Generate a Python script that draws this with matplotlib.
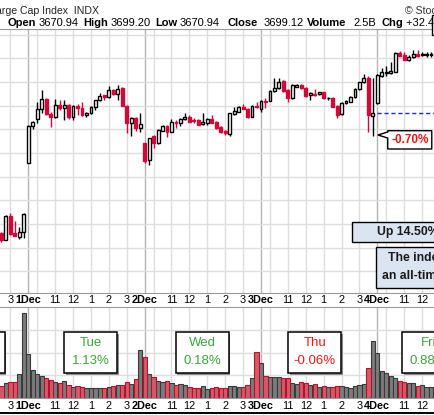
import numpy as np
import matplotlib.pyplot as plt
import matplotlib.transforms as mtransforms
from matplotlib.patches import Rectangle, Polygon
from matplotlib.lines import Line2D

plt.rcParams['font.family'] = ['Liberation Sans', 'DejaVu Sans']

# Séances affichées : barres de 15 min, 26 barres par séance (9h30 -> 16h00)
day_labels = ["30Nov", "1Dec", "2Dec", "3Dec", "4Dec"]
first_bar = [20, 0, 0, 0, 0]

# (open, high, low, close)
nov30_ohlc = [
    (3616.06, 3616.61, 3612.51, 3613.23), (3613.23, 3623.79, 3613.02, 3623.37),
    (3623.37, 3624.51, 3615.34, 3615.76), (3616.06, 3621.26, 3614.71, 3614.92),
    (3614.37, 3618.85, 3613.65, 3616.74), (3616.74, 3624.43, 3613.95, 3624.21),
]
dec1_ohlc = [
    (3645.89, 3661.61, 3645.76, 3661.39), (3661.39, 3663.51, 3660.00, 3663.08),
    (3664.48, 3671.53, 3662.54, 3668.45), (3668.45, 3676.60, 3666.89, 3672.68),
    (3672.68, 3673.35, 3666.04, 3666.34), (3666.34, 3667.31, 3661.10, 3665.07),
    (3665.07, 3672.80, 3664.77, 3670.27), (3670.27, 3672.38, 3668.15, 3668.87),
    (3668.87, 3672.38, 3663.93, 3670.14), (3670.27, 3670.69, 3664.23, 3665.32),
    (3665.32, 3670.27, 3663.93, 3669.84), (3669.84, 3670.69, 3666.04, 3669.13),
    (3669.13, 3671.66, 3665.62, 3665.92), (3665.92, 3667.31, 3665.32, 3666.89),
    (3666.76, 3669.84, 3666.46, 3669.30), (3669.30, 3672.38, 3668.15, 3672.25),
    (3672.25, 3675.21, 3671.96, 3674.07), (3674.37, 3674.49, 3672.38, 3673.77),
    (3673.52, 3678.29, 3673.22, 3676.60), (3676.60, 3677.03, 3674.49, 3674.79),
    (3674.79, 3678.72, 3672.38, 3677.15), (3677.32, 3677.87, 3669.84, 3669.97),
    (3669.97, 3670.27, 3658.31, 3662.54), (3662.54, 3665.20, 3657.17, 3664.65),
    (3664.65, 3665.20, 3659.28, 3660.68), (3660.68, 3666.76, 3658.99, 3662.11),
]
dec2_ohlc = [
    (3654.09, 3654.21, 3645.64, 3646.73), (3647.03, 3656.32, 3644.79, 3656.20),
    (3657.17, 3657.59, 3651.97, 3654.09), (3654.09, 3660.13, 3653.79, 3659.70),
    (3659.41, 3661.82, 3659.28, 3661.39), (3661.39, 3661.82, 3656.62, 3658.99),
    (3658.99, 3664.23, 3658.86, 3663.21), (3663.21, 3663.93, 3660.42, 3662.54),
    (3662.54, 3664.77, 3661.39, 3664.23), (3664.23, 3667.01, 3663.93, 3665.32),
    (3665.32, 3666.04, 3663.08, 3663.21), (3663.93, 3664.65, 3662.54, 3663.38),
    (3663.93, 3664.35, 3661.61, 3661.82), (3662.24, 3666.76, 3661.82, 3663.08),
    (3662.79, 3664.77, 3661.69, 3664.23), (3664.23, 3666.04, 3662.66, 3662.79),
    (3663.08, 3663.51, 3660.13, 3660.42), (3661.10, 3661.39, 3658.44, 3658.99),
    (3659.41, 3659.70, 3657.47, 3658.31), (3658.01, 3666.89, 3657.17, 3666.76),
    (3666.46, 3669.30, 3666.04, 3667.86), (3667.44, 3669.84, 3667.31, 3669.30),
    (3669.30, 3670.69, 3668.58, 3668.70), (3668.70, 3669.00, 3664.77, 3665.07),
    (3665.32, 3670.27, 3665.20, 3669.84), (3669.84, 3671.66, 3669.00, 3669.30),
]
dec3_ohlc = [
    (3668.45, 3672.38, 3667.44, 3671.96), (3671.96, 3673.35, 3669.13, 3671.41),
    (3671.96, 3676.60, 3671.75, 3676.18), (3676.18, 3681.55, 3675.76, 3677.58),
    (3677.32, 3681.80, 3677.03, 3680.11), (3680.41, 3680.83, 3675.76, 3676.18),
    (3676.60, 3677.03, 3671.41, 3673.10), (3673.10, 3678.93, 3672.80, 3678.72),
    (3678.00, 3679.14, 3677.87, 3678.72), (3678.72, 3679.14, 3677.03, 3677.32),
    (3677.58, 3677.87, 3673.65, 3674.20), (3674.49, 3675.55, 3672.38, 3675.34),
    (3674.91, 3677.03, 3674.28, 3674.62), (3674.79, 3675.76, 3674.49, 3675.63),
    (3675.63, 3675.76, 3672.80, 3673.10), (3673.10, 3673.65, 3672.38, 3673.35),
    (3673.35, 3673.44, 3669.42, 3669.55), (3669.97, 3670.27, 3664.90, 3666.04),
    (3666.34, 3671.53, 3666.04, 3670.99), (3670.99, 3672.38, 3670.69, 3671.96),
    (3671.66, 3674.07, 3671.53, 3673.77), (3673.52, 3677.45, 3673.22, 3677.03),
    (3677.03, 3679.98, 3676.60, 3679.86), (3679.86, 3683.24, 3679.56, 3681.55),
    (3681.80, 3682.52, 3658.99, 3666.04), (3665.75, 3681.55, 3657.30, 3666.76),
]
dec4_ohlc = [
    (3670.99, 3683.36, 3670.69, 3682.94), (3682.73, 3685.90, 3682.10, 3684.21),
    (3683.58, 3686.74, 3682.52, 3684.42), (3684.00, 3688.43, 3683.36, 3684.84),
    (3684.42, 3692.66, 3684.21, 3692.11), (3692.11, 3693.08, 3690.97, 3691.18),
    (3691.39, 3692.66, 3689.28, 3689.49), (3689.49, 3691.39, 3689.07, 3690.55),
    (3690.55, 3693.50, 3690.12, 3691.81), (3691.81, 3693.50, 3690.76, 3691.18),
    (3691.31, 3692.66, 3690.97, 3691.56), (3691.48, 3692.66, 3690.55, 3691.56),
    (3691.39, 3692.66, 3690.55, 3691.48), (3691.39, 3692.66, 3690.55, 3691.48),
]

# Volume (millions)
nov30_vol = [55, 66, 69, 71, 105, 371]
dec1_vol = [192, 122, 106, 97, 90, 79, 71, 66, 76, 57, 49, 54, 51, 45, 44, 44,
            44, 45, 49, 52, 57, 60, 71, 61, 84, 211]
dec2_vol = [179, 105, 92, 76, 71, 77, 66, 60, 61, 58, 51, 47, 44, 52, 41, 45,
            48, 44, 47, 54, 54, 48, 48, 57, 87, 201]
dec3_vol = [156, 97, 95, 92, 92, 89, 87, 66, 62, 71, 67, 58, 62, 48, 55, 48,
            48, 52, 52, 48, 45, 52, 57, 62, 131, 250]
dec4_vol = [200, 119, 112, 97, 90, 76, 73, 66, 66, 54, 60, 48, 48, 48]

hour_labels = ["11", "12", "1", "2", "3"]
hour_offsets = [1.5, 2.5, 3.5, 4.5, 5.5]

day_names = ["Mon", "Tue", "Wed", "Thu", "Fri"]
day_changes = [-0.46, 1.13, 0.18, -0.06, 0.88]

title = "S&P 500 Large Cap Index  INDX"
header_fields = ["Open", "High", "Low", "Close", "Volume", "Chg"]
header_values = ["3670.94", "3699.20", "3670.94", "3699.12", "2.5B", "+32.40 (+0.88%)"]

RED = '#d2073c'
W, H = 435, 415


def fx(px):
    return px / W


def fy(py):
    return 1 - py / H


# Assemblage des barres
ohlc_days = [nov30_ohlc, dec1_ohlc, dec2_ohlc, dec3_ohlc, dec4_ohlc]
vol_days = [nov30_vol, dec1_vol, dec2_vol, dec3_vol, dec4_vol]
day_start = [(d - 1) * 6.5 for d in range(len(day_labels))]

x, o, hi, lo, c, v = [], [], [], [], [], []
for d, (bars, vols) in enumerate(zip(ohlc_days, vol_days)):
    for k, ((bo, bh, bl, bc), bv) in enumerate(zip(bars, vols)):
        x.append(day_start[d] + 0.25 * (first_bar[d] + k))
        o.append(bo); hi.append(bh); lo.append(bl); c.append(bc); v.append(bv)
x, o, hi, lo, c, v = map(np.array, (x, o, hi, lo, c, v))
up = c >= o

fig = plt.figure(figsize=(W / 100, H / 100), dpi=100)
ax = fig.add_axes([0, fy(292.7), 1, (292.7 - 29) / H])
axv = fig.add_axes([0, fy(398.3), 1, (398.3 - 306.7) / H])

xmin, xmax = -28.3 / 17.9, (W - 28.3) / 17.9
for a in (ax, axv):
    a.set_xlim(xmin, xmax)
    a.set_xticks([])
    a.tick_params(axis='y', left=False, labelleft=False)
    a.spines['left'].set_visible(False)
    a.spines['right'].set_visible(False)
    for ds in day_start:
        a.axvline(ds, color='#b4b4b4', lw=1, zorder=0)
        for off in [0.5] + hour_offsets:
            a.axvline(ds + off, color='#dedede', lw=1, zorder=0)

ax.set_ylim(3590.96, 3702.38)
ax.set_yticks(np.arange(3600, 3701, 10))
ax.grid(axis='y', color='#dedede', lw=1, zorder=0)
ax.spines['top'].set_color('#9a9a9a')
ax.spines['bottom'].set_color('#9a9a9a')
ax.spines['bottom'].set_linestyle((0, (1, 1)))

axv.set_ylim(0, 400)
axv.set_yticks([100, 200, 300])
axv.grid(axis='y', color='#dedede', lw=1, zorder=0)
for s in ('top', 'bottom'):
    axv.spines[s].set_color('#9a9a9a')
    axv.spines[s].set_linestyle((0, (1, 1)))

# Chandeliers
body_low = np.minimum(o, c)
body_h = np.maximum(np.abs(c - o), 0.3)
ax.vlines(x[up], lo[up], hi[up], color='black', lw=1, zorder=2)
ax.vlines(x[~up], lo[~up], hi[~up], color=RED, lw=1, zorder=2)
ax.bar(x[up], body_h[up], bottom=body_low[up], width=0.16,
       facecolor='white', edgecolor='black', lw=1, zorder=3)
ax.bar(x[~up], body_h[~up], bottom=body_low[~up], width=0.16,
       facecolor=RED, edgecolor=RED, lw=1, zorder=3)

# Clôture de la veille
ax.hlines(dec3_ohlc[-1][3], day_start[4], xmax, colors='#1530d0',
          linestyles=(0, (3, 2)), lw=1, zorder=1)

# Volume
axv.bar(x[up], v[up], width=0.235, facecolor='#7c7c7c', edgecolor='#3a3a3a', lw=0.8, zorder=2)
axv.bar(x[~up], v[~up], width=0.235, facecolor='#cf5c68', edgecolor='#b8102e', lw=0.8, zorder=2)

# Etiquettes de l'axe du temps (seulement celles qui tombent dans la fenêtre)
for a, yrow in ((ax, -7 / 263.7), (axv, -7.2 / 91.6)):
    tf = mtransforms.blended_transform_factory(a.transData, a.transAxes)
    for ds, lab in zip(day_start, day_labels):
        if xmin < ds < xmax:
            a.text(ds, yrow, lab, transform=tf, ha='center', va='center',
                   fontsize=7.8, fontweight='bold', clip_on=False)
        for off, hl in zip(hour_offsets, hour_labels):
            if xmin < ds + off < xmax:
                a.text(ds + off, yrow, hl, transform=tf, ha='center', va='center',
                       fontsize=7.8, clip_on=False)

# Encadrés des variations journalières
box_left = [-4.26, 2.01, 8.24, 14.53, 20.89]
for name, chg, x0 in zip(day_names, day_changes, box_left):
    col = '#3fa43a' if chg >= 0 else '#ff1414'
    axv.add_patch(Rectangle((x0 + 0.09, 109.2 - 6.5), 2.95, 179, facecolor='#666666',
                            edgecolor='none', alpha=0.7, zorder=4))
    axv.add_patch(Rectangle((x0, 109.2), 2.95, 179, facecolor='white',
                            edgecolor='black', lw=1.1, zorder=5))
    if x0 + 1.475 > xmin:
        axv.text(x0 + 1.475, 240, name, ha='center', va='center', fontsize=9.5,
                 color=col, zorder=6)
        axv.text(x0 + 1.475, 163, f"{chg:.2f}%", ha='center', va='center', fontsize=9.5,
                 color=col, zorder=6)

# Bulle -0.70%
callout = Polygon([(20.08, 3659.41), (22.54, 3659.41), (22.54, 3651.68), (20.08, 3651.68),
                   (20.08, 3656.33), (19.53, 3657.59), (20.08, 3658.86)],
                  closed=True, facecolor='white', edgecolor='black', lw=1, zorder=6)
ax.add_patch(callout)
ax.text(21.31, 3655.5, "-0.70%", ha='center', va='center', fontsize=8.5,
        color='#ff1010', fontweight='bold', zorder=7)

# Encadrés de commentaire
ax.add_patch(Rectangle((18.11, 3612.26), 8, 8.7, facecolor='#dbe5f1',
                       edgecolor='black', lw=1, zorder=6))
ax.text(19.46, 3616.61, "Up 14.50%", ha='left', va='center', fontsize=8.8,
        fontweight='bold', color='#1a1a1a', zorder=7)
ax.add_patch(Rectangle((19.41, 3592.82), 8, 17.58, facecolor='#dbe5f1',
                       edgecolor='black', lw=1, zorder=6))
ax.text(20.11, 3605.75, "The index closed at", ha='left', va='center', fontsize=8.8,
        fontweight='bold', color='#1a1a1a', zorder=7)
ax.text(19.78, 3598.15, "an all-time high", ha='left', va='center', fontsize=8.8,
        fontweight='bold', color='#1a1a1a', zorder=7)

# En-tête
fig.text(fx(99), fy(10.7), title, ha='right', va='center', fontsize=7.6, color='#222222')
fig.text(fx(405), fy(10.7), "\u00a9 StockCharts.com", ha='left', va='center',
         fontsize=7.6, color='#333333')
label_x = [7.3, 83.3, 155.7, 227.7, 307.3, 381.7]
value_x = [38.3, 110.7, 179.3, 263.3, 353.3, 406]
for fld, val, lx, vx in zip(header_fields, header_values, label_x, value_x):
    fig.text(fx(lx), fy(23.3), fld, ha='left', va='center', fontsize=8, fontweight='bold')
    fig.text(fx(vx), fy(23.3), val, ha='left', va='center', fontsize=8)

fig.add_artist(Rectangle((fx(432), fy(35)), fx(12), 20 / H, transform=fig.transFigure,
                         facecolor='white', edgecolor='black', lw=1))
fig.add_artist(Line2D([0, 1], [fy(413.3), fy(413.3)], transform=fig.transFigure,
                      color='black', lw=1.4))

fig.savefig("out.png", dpi=100)
